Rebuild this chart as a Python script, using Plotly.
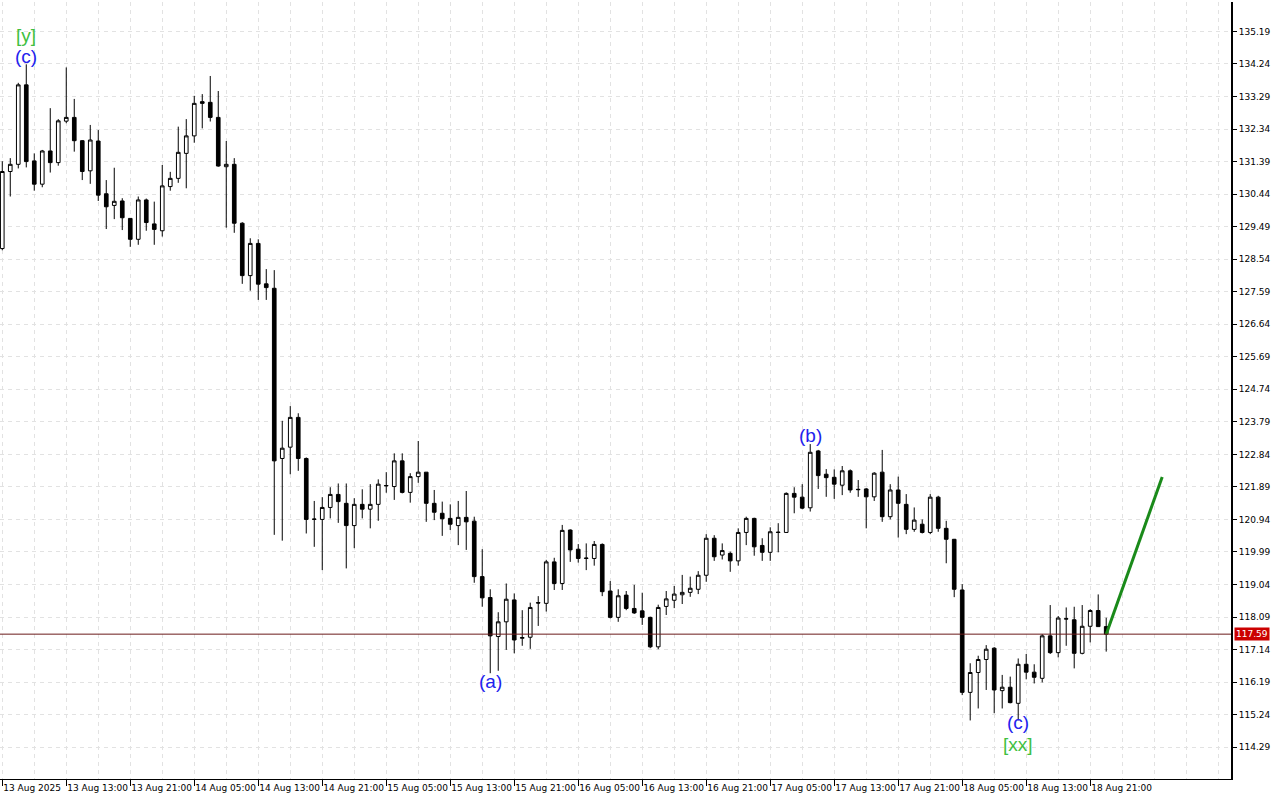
import pandas as pd
import plotly.graph_objects as go

# ---------------- data (hourly bars, first bar 13 Aug 2025 05:00) ----------------
open_ = [128.85, 131.10, 131.31, 133.63, 131.41, 130.73, 131.70, 131.36, 132.57, 132.68,
         132.00, 131.12, 131.99, 130.45, 130.11, 130.24, 129.73, 129.12, 130.27, 129.57,
         129.37, 130.66, 130.90, 131.63, 132.14, 133.14, 133.12, 132.68, 131.24, 131.31,
         129.59, 128.06, 129.00, 127.82, 127.69, 122.72, 123.05, 123.92, 122.72, 120.94,
         120.94, 121.29, 121.67, 121.41, 120.76, 121.38, 121.24, 121.38, 121.92, 121.90,
         122.65, 121.73, 122.19, 122.32, 121.41, 121.12, 120.97, 120.76, 121.00, 120.89,
         119.27, 118.66, 117.52, 117.95, 118.59, 117.47, 117.50, 118.51, 118.49, 119.70,
         119.07, 120.63, 120.07, 119.80, 119.80, 120.21, 118.85, 118.08, 118.73, 118.34,
         118.27, 118.08, 117.22, 118.40, 118.58, 118.74, 118.81, 118.90, 119.31, 120.39,
         119.90, 119.95, 119.73, 120.56, 120.97, 120.18, 119.98, 120.57, 120.56, 121.70,
         121.59, 121.28, 122.94, 122.26, 122.17, 121.94, 122.36, 121.82, 121.83, 121.60,
         122.32, 121.02, 121.80, 121.38, 120.65, 120.80, 120.56, 121.59, 120.68, 120.36,
         118.88, 115.89, 116.47, 116.85, 117.18, 115.94, 116.04, 115.57, 116.71, 116.48,
         116.30, 117.54, 117.05, 118.03, 118.01, 117.03, 117.82, 118.28, 117.81]
high = [131.40, 131.49, 133.69, 134.23, 131.63, 131.73, 132.95, 132.63, 134.14, 133.22,
        132.02, 132.46, 132.31, 130.85, 131.21, 130.32, 129.73, 130.37, 130.31, 130.22,
        131.29, 131.09, 132.41, 132.63, 133.31, 133.36, 133.89, 133.45, 131.99, 131.49,
        129.62, 129.15, 129.12, 128.25, 128.22, 123.82, 124.25, 124.04, 122.75, 121.48,
        121.59, 121.88, 121.99, 121.99, 121.56, 121.82, 121.97, 122.11, 122.32, 122.87,
        122.87, 122.29, 123.23, 122.32, 121.80, 121.46, 121.38, 121.48, 121.77, 121.02,
        120.07, 118.90, 118.23, 119.07, 118.78, 118.29, 118.51, 118.70, 119.76, 119.82,
        120.78, 120.65, 120.22, 120.24, 120.31, 120.24, 119.14, 118.90, 118.85, 119.03,
        118.80, 118.10, 118.45, 118.85, 119.00, 119.32, 119.27, 119.43, 120.51, 120.48,
        120.24, 120.00, 120.68, 121.02, 120.99, 120.39, 120.71, 120.83, 121.73, 121.88,
        121.97, 123.14, 122.97, 122.41, 122.40, 122.50, 122.40, 122.09, 121.86, 122.32,
        122.97, 121.97, 122.19, 121.68, 121.29, 120.94, 121.68, 121.63, 120.90, 120.37,
        119.05, 116.74, 116.96, 117.27, 117.21, 116.40, 116.35, 116.88, 117.01, 116.71,
        117.59, 118.44, 118.12, 118.37, 118.39, 118.44, 118.32, 118.75, 118.07]
low = [128.80, 130.37, 131.19, 131.22, 130.54, 130.64, 131.07, 131.27, 132.51, 131.68,
       130.85, 130.74, 130.24, 129.42, 129.71, 129.39, 128.90, 128.96, 129.37, 128.96,
       129.20, 130.54, 130.77, 130.61, 131.94, 132.36, 132.56, 131.24, 129.46, 129.31,
       127.82, 127.62, 127.35, 127.35, 120.49, 120.32, 122.26, 122.36, 120.53, 120.14,
       119.46, 120.97, 120.84, 119.51, 120.10, 120.97, 120.68, 120.90, 121.72, 121.51,
       121.70, 121.43, 122.01, 120.87, 120.92, 120.46, 120.63, 120.19, 120.05, 119.09,
       118.39, 116.45, 116.52, 117.13, 117.03, 117.25, 117.16, 117.83, 118.25, 118.88,
       118.88, 119.70, 119.68, 119.46, 119.59, 118.70, 118.05, 117.95, 118.29, 118.18,
       117.86, 117.18, 117.15, 118.15, 118.35, 118.47, 118.68, 118.76, 119.12, 119.73,
       119.77, 119.41, 119.59, 120.19, 119.88, 119.73, 119.73, 119.98, 120.55, 121.12,
       121.24, 121.17, 121.83, 121.60, 121.54, 121.65, 121.72, 121.60, 120.68, 121.48,
       120.87, 120.94, 120.41, 120.51, 120.58, 120.53, 120.51, 120.58, 119.66, 118.67,
       115.81, 115.07, 115.42, 115.96, 115.28, 115.42, 115.57, 115.07, 116.27, 116.15,
       116.18, 117.01, 116.91, 117.25, 116.59, 117.00, 117.35, 117.80, 117.08]
close = [131.10, 131.31, 133.63, 131.39, 130.73, 131.70, 131.36, 132.58, 132.68, 132.00,
         131.10, 132.02, 130.41, 130.07, 130.23, 129.75, 129.12, 130.27, 129.61, 129.41,
         130.68, 130.90, 131.66, 132.14, 133.09, 133.09, 132.68, 131.26, 131.31, 129.59,
         128.06, 129.00, 127.81, 127.71, 122.65, 123.02, 123.92, 122.72, 120.94, 120.95,
         121.29, 121.67, 121.46, 120.76, 121.38, 121.24, 121.38, 121.97, 121.93, 122.65,
         121.73, 122.19, 122.32, 121.41, 121.15, 120.96, 120.80, 121.00, 120.87, 119.27,
         118.65, 117.54, 117.95, 118.61, 117.42, 117.49, 118.37, 118.50, 119.70, 119.07,
         120.62, 120.05, 119.80, 119.81, 120.21, 118.83, 118.08, 118.71, 118.34, 118.21,
         118.08, 117.22, 118.37, 118.62, 118.76, 118.81, 118.93, 119.31, 120.39, 119.85,
         120.03, 119.73, 120.56, 120.97, 120.14, 119.98, 120.58, 120.56, 121.70, 121.59,
         121.27, 122.90, 122.22, 122.16, 121.97, 122.36, 121.80, 121.81, 121.60, 122.29,
         121.02, 121.80, 121.41, 120.65, 120.92, 120.56, 121.59, 120.68, 120.36, 118.90,
         115.89, 116.47, 116.85, 117.15, 115.96, 116.04, 115.59, 116.71, 116.48, 116.33,
         117.54, 117.05, 118.06, 118.04, 117.03, 117.82, 118.28, 117.81, 117.59]

start = pd.Timestamp("2025-08-13 05:00")
times = pd.date_range(start, periods=len(close), freq="h")

x_tick_labels = ["13 Aug 2025", "13 Aug 13:00", "13 Aug 21:00", "14 Aug 05:00", "14 Aug 13:00",
                 "14 Aug 21:00", "15 Aug 05:00", "15 Aug 13:00", "15 Aug 21:00", "16 Aug 05:00",
                 "16 Aug 13:00", "16 Aug 21:00", "17 Aug 05:00", "17 Aug 13:00", "17 Aug 21:00",
                 "18 Aug 05:00", "18 Aug 13:00", "18 Aug 21:00"]
x_tick_times = pd.date_range(start, periods=len(x_tick_labels), freq="8h")

y_tick_values = [114.29, 115.24, 116.19, 117.14, 118.09, 119.04, 119.99, 120.94, 121.89,
                 122.84, 123.79, 124.74, 125.69, 126.64, 127.59, 128.54, 129.49, 130.44,
                 131.39, 132.34, 133.29, 134.24, 135.19]

current_price = 117.59

# wave labels: text, bar index, price, colour
wave_text = ["[y]", "(c)", "(a)", "(b)", "(c)", "[xx]"]
wave_bar = [3, 3, 61, 101, 127, 127]
wave_price = [135.06, 134.47, 116.22, 123.40, 115.02, 114.38]
wave_color = ["#3fbf3f", "#2222ee", "#2222ee", "#2222ee", "#2222ee", "#3fbf3f"]

# forecast line
forecast_bar = [138, 145]
forecast_price = [117.59, 122.18]

# ---------------- figure ----------------
fig = go.Figure()
fig.add_trace(go.Candlestick(
    x=times, open=open_, high=high, low=low, close=close,
    increasing=dict(line=dict(color="black", width=1), fillcolor="white"),
    decreasing=dict(line=dict(color="black", width=1), fillcolor="black"),
    whiskerwidth=0, hoverinfo="skip",
))
fig.add_trace(go.Scatter(
    x=[times[0] + pd.Timedelta(hours=b) for b in forecast_bar], y=forecast_price,
    mode="lines", line=dict(color="#1a8a1a", width=3), hoverinfo="skip",
))

for t, b, p, c in zip(wave_text, wave_bar, wave_price, wave_color):
    fig.add_annotation(x=times[0] + pd.Timedelta(hours=b), y=p, text=t, showarrow=False,
                       font=dict(family="Liberation Sans, Arial", size=19, color=c))

fig.add_shape(type="line", xref="paper", x0=0, x1=1, yref="y", y0=current_price, y1=current_price,
              line=dict(color="#6a1a1a", width=1))
fig.add_annotation(xref="paper", x=1, xanchor="left", xshift=3, y=current_price, yref="y",
                   text=f"{current_price:.2f}", showarrow=False, bgcolor="#cc0000",
                   font=dict(family="DejaVu Sans", size=9, color="white"), borderpad=1)

grid = "#e2e2e2"
x0 = start - pd.Timedelta(minutes=17)
x1 = start + pd.Timedelta(minutes=int(153.6 * 60))
fig.update_layout(
    width=1280, height=800,
    margin=dict(l=0, r=49, t=2, b=21, autoexpand=False),
    paper_bgcolor="white", plot_bgcolor="white",
    showlegend=False,
    boxgap=0.35,
    font=dict(family="DejaVu Sans", size=9, color="black"),
    xaxis=dict(
        type="date", range=[x0, x1], rangeslider=dict(visible=False),
        tickmode="array", tickvals=list(x_tick_times), ticktext=x_tick_labels,
        tickangle=0, automargin=False,
        ticks="outside", ticklen=6, tickcolor="black", tickwidth=1,
        ticklabelposition="outside right",
        showline=True, linecolor="black", linewidth=1,
        showgrid=True, gridcolor=grid, griddash="4px,4px", gridwidth=1,
        minor=dict(dtick=4 * 3600 * 1000, tick0=start, showgrid=True, gridcolor=grid,
                   griddash="4px,4px", ticks=""),
        zeroline=False,
    ),
    yaxis=dict(
        side="right", range=[113.36, 136.05], automargin=False,
        tickmode="array", tickvals=y_tick_values,
        ticktext=[f"{v:.2f}" for v in y_tick_values],
        ticks="outside", ticklen=4, tickcolor="black",
        showline=True, linecolor="black", linewidth=2,
        showgrid=True, gridcolor=grid, griddash="4px,4px", gridwidth=1,
        zeroline=False,
    ),
)

fig.write_html("out.html",
               config={"displayModeBar": False},
               post_script="document.body.style.margin='0px';document.body.style.overflow='hidden';")
